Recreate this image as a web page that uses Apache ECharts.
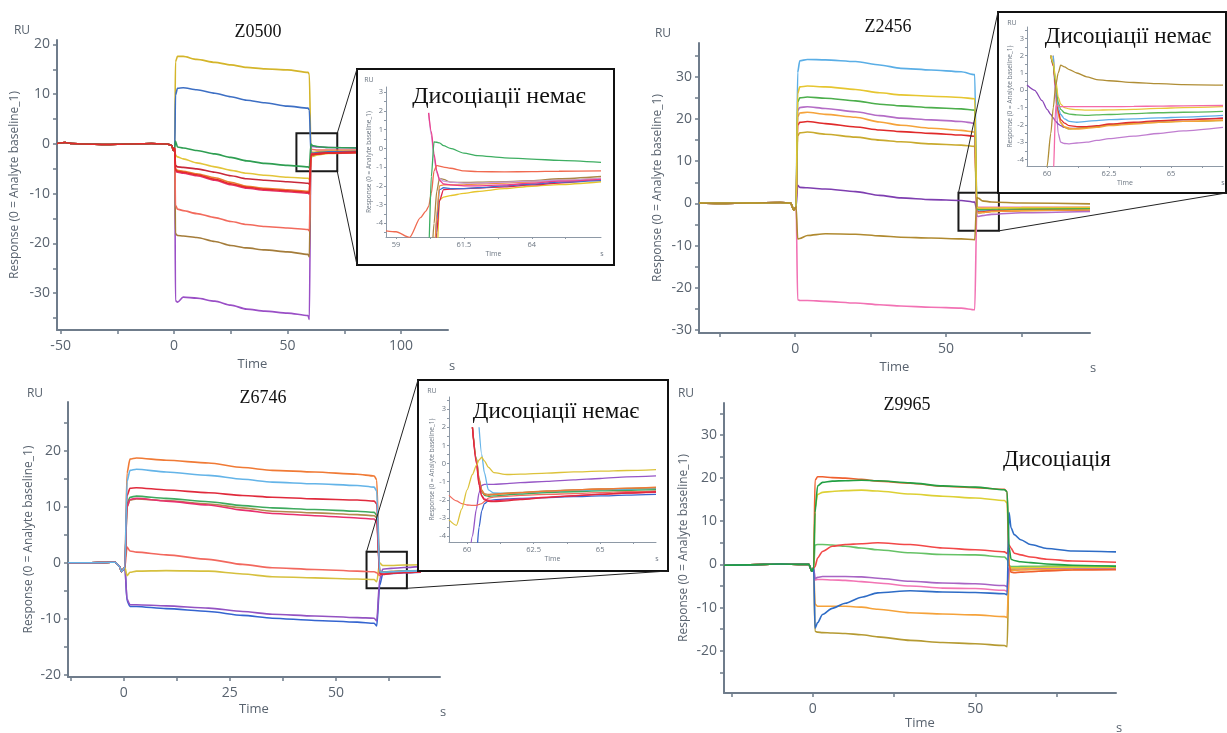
<!DOCTYPE html>
<html><head><meta charset="utf-8">
<script src="https://cdn.jsdelivr.net/npm/echarts@6/dist/echarts.min.js"></script>
<style>html,body{margin:0;padding:0;background:#fff}#c{width:1227px;height:733px}</style>
</head><body><div id="c"></div>
<script>
// ================= DATA =================
// ---- Panel Z0500 ----
const P1_PRE_T = [-51.6, -48, -45, -40, -30, -20, -10, -3, -1, -0.3, 0.3];
const P1_PRE_V = [0.1, 0.3, 0.1, 0.0, -0.1, 0.0, 0.1, 0.0, -0.3, -1.3, -0.8];
const P1_T = [0.6, 1.5, 4, 10, 18, 25, 32, 40, 50, 59, 59.6, 60.3, 61, 63, 68, 85];
const P1_YELLOW = [16.5, 17.6, 17.6, 17.0, 16.4, 15.9, 15.4, 15.1, 14.9, 14.4, 14.0, -1.5, -1.7, -1.6, -1.5, -1.4];
const P1_BLUE = [9.8, 11.2, 11.3, 10.9, 10.2, 9.5, 8.8, 8.3, 7.6, 7.2, 6.8, -1.8, -1.9, -1.8, -1.6, -1.5];
const P1_GREEN = [0.6, -0.6, -0.8, -1.3, -2.0, -2.7, -3.4, -3.9, -4.3, -4.6, -4.8, 0.0, -0.3, -0.5, -0.7, -0.8];
const P1_YELLOW2 = [-2.2, -2.6, -3.0, -3.8, -4.6, -5.3, -5.9, -6.3, -6.7, -6.9, -7.1, -2.6, -2.5, -2.2, -1.9, -1.7];
const P1_DARKRED = [-4.3, -4.6, -4.7, -5.0, -5.7, -6.4, -7.0, -7.3, -7.6, -7.9, -8.1, -2.2, -2.2, -2.0, -1.8, -1.6];
const P1_ORANGE = [-5.0, -5.3, -5.5, -6.0, -6.8, -7.7, -8.5, -8.9, -9.2, -9.5, -9.6, -1.9, -1.9, -1.85, -1.7, -1.6];
const P1_RED = [-5.2, -5.5, -5.7, -6.2, -7.1, -8.0, -8.7, -9.1, -9.4, -9.7, -9.9, -2.1, -2.1, -2.0, -1.8, -1.6];
const P1_PINK = [-5.4, -5.7, -5.9, -6.4, -7.3, -8.2, -8.9, -9.3, -9.6, -9.9, -10.1, -1.9, -2.0, -1.95, -1.8, -1.7];
const P1_SALMON = [-12.3, -13.1, -13.4, -14.0, -14.8, -15.6, -16.2, -16.6, -16.9, -17.2, -17.5, -1.0, -1.1, -1.2, -1.2, -1.2];
const P1_BROWN = [-18.0, -18.4, -18.5, -18.8, -19.6, -20.4, -20.9, -21.3, -21.7, -22.2, -22.7, -1.7, -1.8, -1.8, -1.7, -1.6];
const P1_PURPLE = [-31.5, -31.8, -30.8, -31.0, -31.6, -32.4, -33.2, -33.6, -34.0, -34.5, -35.3, -0.6, -0.5, -0.6, -0.7, -0.8];

// ---- Inset of Z0500 ----
const I1_T = [58.63, 59, 59.5, 59.9, 60.1, 60.2, 60.3, 60.4, 60.5, 60.6, 60.75, 61, 61.5, 62, 63, 64, 65, 66.55];
const I1_GREEN = [-6, -6, -6, -6, -6, -5.5, -1.5, 0.35, 0.33, 0.3, 0.15, 0.0, -0.25, -0.38, -0.5, -0.57, -0.64, -0.75];
const I1_SALMON = [-4.4, -4.45, -4.75, -3.7, -3.35, -3.1, -2.4, -1.2, -0.9, -0.95, -1.0, -1.06, -1.2, -1.24, -1.25, -1.24, -1.22, -1.2];
const I1_PINK = [null, null, null, null, null, 1.9, 0.9, -0.3, -1.2, -1.7, -1.9, -1.95, -2.0, -2.0, -1.95, -1.85, -1.75, -1.65];
const I1_LAVENDER = [null, null, null, null, null, 1.9, 0.7, -0.5, -1.3, -1.6, -1.75, -1.8, -1.85, -1.85, -1.8, -1.75, -1.7, -1.6];
const I1_BROWN = [-6, -6, -6, -6, -6, -6, -6, -4.0, -2.3, -1.6, -1.65, -1.8, -1.82, -1.8, -1.77, -1.72, -1.62, -1.5];
const I1_ORANGE = [-6, -6, -6, -6, -6, -6, -6, -6, -3.5, -2.0, -1.95, -1.95, -1.95, -1.9, -1.85, -1.78, -1.7, -1.6];
const I1_BLUE = [-6, -6, -6, -6, -6, -6, -6, -6, -3.8, -2.2, -2.1, -2.15, -2.15, -2.1, -2.0, -1.9, -1.8, -1.7];
const I1_RED = [-6, -6, -6, -6, -6, -6, -6, -6, -4.5, -2.8, -2.2, -2.17, -2.15, -2.12, -2.05, -1.95, -1.85, -1.63];
const I1_YELLOW = [-6, -6, -6, -6, -6, -6, -6, -6, -6, -2.75, -2.6, -2.52, -2.4, -2.3, -2.15, -2.02, -1.93, -1.78];

// ---- Panel Z2456 ----
const P2_PRE_T = [-31.9, -25, -15, -5, -1.5, -0.5, 0.3];
const P2_PRE_V = [0.1, 0.0, 0.1, 0.2, 0.1, -1.6, -0.8];
const P2_T = [0.8, 1.5, 4, 10, 20, 28, 35, 45, 55, 59.5, 60.2, 60.8, 62, 65, 75, 97.7];
const P2_LIGHTBLUE = [31.0, 33.8, 34.1, 34.0, 33.6, 32.8, 32.0, 31.6, 31.2, 30.5, -1.5, -1.8, -1.75, -1.65, -1.45, -1.3];
const P2_YELLOW = [26.0, 27.6, 27.8, 27.6, 27.0, 26.2, 25.7, 25.4, 25.1, 24.8, -1.0, -1.1, -1.15, -1.1, -1.0, -0.9];
const P2_GREEN = [24.0, 25.0, 25.2, 24.9, 24.3, 23.5, 23.1, 22.7, 22.4, 22.1, -1.3, -1.4, -1.45, -1.35, -1.3, -1.2];
const P2_VIOLET = [22.0, 22.7, 22.9, 22.5, 21.7, 20.8, 20.2, 19.8, 19.4, 19.0, -3.0, -3.1, -2.9, -2.6, -2.2, -1.9];
const P2_ORANGE = [20.5, 21.4, 21.6, 21.1, 20.4, 19.3, 18.5, 17.8, 17.3, 16.9, -2.1, -2.2, -2.15, -1.9, -1.7, -1.5];
const P2_RED = [18.5, 19.2, 19.4, 18.9, 18.1, 17.4, 17.0, 16.6, 16.2, 15.9, -1.9, -2.1, -2.05, -1.85, -1.6, -1.5];
const P2_OLIVE = [16.0, 16.7, 16.9, 16.4, 15.7, 15.0, 14.6, 14.1, 13.8, 13.5, -2.0, -2.2, -2.15, -1.9, -1.7, -1.5];
const P2_PURPLE = [4.3, 3.8, 3.7, 3.4, 2.8, 1.9, 1.3, 0.9, 0.7, 0.3, -1.6, -2.2, -2.1, -1.8, -1.6, -1.4];
const P2_BROWN = [-8.4, -8.3, -7.6, -7.2, -7.3, -7.7, -8.0, -8.2, -8.4, -8.6, 1.4, 1.2, 0.6, 0.35, 0.1, -0.1];
const P2_PINK = [-22.8, -23.0, -23.0, -23.2, -23.6, -24.0, -24.3, -24.6, -24.8, -25.2, -0.9, -0.95, -0.95, -0.9, -0.9, -0.9];

// ---- Inset of Z2456 ----
const I2_T = [59.19, 59.5, 59.8, 60.0, 60.15, 60.25, 60.35, 60.45, 60.55, 60.7, 60.9, 61.2, 61.6, 62, 62.5, 63.5, 64.5, 65.5, 67.1];
const I2_PURPLE = [0.3, 0.0, -0.6, -1.1, -1.4, -1.6, -1.8, -1.95, -2.05, -2.15, -2.2, -2.2, -2.15, -2.1, -2.0, -1.9, -1.8, -1.7, -1.6];
const I2_LAVENDER = [null, null, null, null, null, 2.0, -0.5, -2.5, -3.0, -3.08, -3.1, -3.05, -3.0, -2.9, -2.8, -2.65, -2.5, -2.35, -2.15];
const I2_BROWN = [-6, -6, -6, -4.4, -2.5, -1.0, 0.3, 1.0, 1.45, 1.35, 1.2, 1.0, 0.78, 0.62, 0.55, 0.45, 0.38, 0.33, 0.3];
const I2_PINK = [-6, -6, -6, -6, -6, -5, -0.9, -0.9, -0.95, -0.95, -0.95, -0.95, -0.95, -0.95, -0.95, -0.93, -0.92, -0.9, -0.88];
const I2_YELLOW = [null, null, null, null, 2.0, 1.6, 0.6, -0.4, -0.8, -1.0, -1.08, -1.12, -1.15, -1.15, -1.13, -1.1, -1.05, -1.0, -0.95];
const I2_GREEN = [null, null, null, null, 2.0, 1.5, 0.4, -0.7, -1.1, -1.3, -1.38, -1.42, -1.45, -1.42, -1.4, -1.35, -1.3, -1.27, -1.22];
const I2_LIGHTBLUE = [null, null, null, null, null, 2.0, 0.5, -1.0, -1.4, -1.65, -1.8, -1.85, -1.8, -1.75, -1.7, -1.65, -1.6, -1.55, -1.45];
const I2_RED = [null, null, null, null, 2.0, 1.4, 0.2, -1.2, -1.7, -1.9, -2.05, -2.1, -2.1, -2.05, -1.95, -1.85, -1.75, -1.7, -1.62];
const I2_ORANGE = [null, null, null, null, null, 2.0, 0.2, -1.4, -1.9, -2.1, -2.2, -2.25, -2.2, -2.15, -2.05, -1.95, -1.85, -1.8, -1.72];
const I2_OLIVE = [null, null, null, null, 2.0, 1.5, 0.3, -1.3, -1.85, -2.15, -2.25, -2.2, -2.15, -2.1, -2.0, -1.92, -1.85, -1.8, -1.75];

// ---- Panel Z6746 ----
const P3_PRE_T = [-13.1, -8, -4, -2, -1, -0.5, 0.3];
const P3_PRE_V = [0.0, 0.0, 0.05, 0.1, -0.6, -1.6, -0.8];
const P3_T = [0.8, 1.5, 3, 10, 20, 28, 35, 45, 55, 59, 59.6, 60.3, 61, 63, 66, 70];
const P3_ORANGE = [16.0, 18.5, 18.7, 18.3, 17.8, 17.0, 16.5, 16.2, 15.8, 15.5, 14.8, -1.5, -1.65, -1.6, -1.5, -1.4];
const P3_LIGHTBLUE = [14.5, 16.5, 16.7, 16.2, 15.6, 14.9, 14.4, 14.1, 13.8, 13.5, 12.8, -1.6, -1.7, -1.6, -1.5, -1.45];
const P3_RED = [12.0, 13.3, 13.4, 13.0, 12.5, 12.0, 11.7, 11.4, 11.2, 11.0, 10.5, -1.9, -2.1, -1.9, -1.75, -1.65];
const P3_GREEN = [10.5, 11.7, 11.9, 11.5, 10.9, 10.2, 9.8, 9.5, 9.2, 9.0, 8.5, -1.7, -1.75, -1.65, -1.55, -1.5];
const P3_BROWN = [10.0, 11.2, 11.4, 11.1, 10.5, 9.8, 9.2, 8.9, 8.6, 8.4, 8.0, -1.6, -1.7, -1.55, -1.45, -1.4];
const P3_PINK = [10.0, 11.3, 11.5, 11.0, 10.3, 9.4, 8.8, 8.4, 8.0, 7.8, 7.3, -2.0, -2.05, -1.9, -1.75, -1.65];
const P3_SALMON = [2.8, 2.1, 1.9, 1.4, 0.6, -0.3, -0.9, -1.2, -1.5, -1.6, -1.8, -2.3, -1.9, -1.75, -1.6, -1.5];
const P3_YELLOW = [-2.3, -1.7, -1.5, -1.4, -1.5, -2.0, -2.5, -2.7, -2.9, -3.0, -3.4, 0.0, -0.5, -0.5, -0.4, -0.35];
const P3_PURPLE = [-6.5, -7.5, -7.5, -7.7, -8.1, -8.7, -9.2, -9.5, -9.8, -9.9, -10.4, -3.0, -1.15, -1.0, -0.85, -0.7];
const P3_BLUE = [-6.8, -7.8, -7.8, -8.2, -8.7, -9.4, -9.9, -10.3, -10.6, -10.8, -11.3, -4.0, -2.0, -1.9, -1.8, -1.7];

// ---- Inset of Z6746 ----
const I3_T = [59.32, 59.6, 59.8, 60.0, 60.2, 60.35, 60.45, 60.55, 60.65, 60.8, 61.0, 61.5, 62, 63, 64, 65, 66, 67.1];
const I3_YELLOW = [-3.1, -3.4, -2.5, -1.45, -0.6, -0.1, 0.2, 0.35, 0.15, -0.2, -0.5, -0.6, -0.58, -0.52, -0.46, -0.42, -0.38, -0.33];
const I3_SALMON = [-1.75, -2.05, -2.2, -2.28, -2.3, -2.3, -2.25, -2.2, -2.1, -1.9, -1.85, -1.8, -1.75, -1.7, -1.65, -1.6, -1.55, -1.5];
const I3_PURPLE = [-6, -6, -6, -6, -4.0, -2.5, -1.6, -1.2, -1.15, -1.15, -1.15, -1.1, -1.05, -0.98, -0.9, -0.82, -0.73, -0.68];
const I3_BLUE = [-6, -6, -6, -6, -6, -5, -3.5, -2.6, -2.2, -2.05, -2.0, -1.95, -1.92, -1.87, -1.82, -1.78, -1.74, -1.7];
const I3_LIGHTBLUE = [null, null, null, null, null, null, 2.0, 0.5, -0.5, -1.45, -1.62, -1.65, -1.62, -1.55, -1.5, -1.45, -1.42, -1.38];
const I3_ORANGE = [null, null, null, null, 2.0, 0.2, -0.9, -1.5, -1.7, -1.75, -1.7, -1.65, -1.6, -1.52, -1.45, -1.4, -1.35, -1.3];
const I3_BROWN = [null, null, null, null, 2.0, 0.3, -0.8, -1.45, -1.65, -1.7, -1.68, -1.62, -1.58, -1.5, -1.45, -1.4, -1.37, -1.33];
const I3_GREEN = [null, null, null, null, 2.0, 0.3, -0.9, -1.55, -1.75, -1.8, -1.78, -1.72, -1.68, -1.6, -1.55, -1.5, -1.47, -1.43];
const I3_RED = [null, null, null, null, 2.0, 0.0, -1.2, -1.8, -2.0, -2.08, -2.1, -2.05, -1.98, -1.87, -1.78, -1.7, -1.62, -1.55];
const I3_PINK = [null, null, null, null, 2.0, 0.1, -1.1, -1.75, -1.95, -2.02, -2.05, -2.0, -1.95, -1.85, -1.76, -1.68, -1.62, -1.58];

// ---- Panel Z9965 ----
const P4_PRE_T = [-27.3, -20, -10, -3, -1.2, -0.3, 0.3];
const P4_PRE_V = [-0.2, -0.1, 0.1, 0.0, 0.0, -1.6, -0.8];
const P4_T = [0.7, 1.5, 3, 6, 10, 15, 20, 30, 40, 50, 59, 59.8, 60.4, 61, 62, 64, 67, 72, 80, 93.3];
const P4_ORANGERED = [19.5, 20.3, 20.3, 20.1, 20.0, 19.7, 19.3, 18.8, 18.1, 17.8, 17.4, 16.8, 0.0, -1.8, -1.9, -1.8, -1.7, -1.5, -1.3, -1.2];
const P4_GREEN = [12.0, 18.2, 19.0, 19.3, 19.4, 19.5, 19.4, 18.9, 18.2, 17.9, 17.3, 16.8, 4.0, 1.2, 0.9, 0.6, 0.4, 0.1, -0.2, -0.45];
const P4_YELLOW = [13.0, 16.2, 16.7, 16.9, 17.1, 17.2, 17.0, 16.3, 15.8, 15.4, 14.8, 14.2, -0.5, -0.8, -0.8, -0.8, -0.75, -0.7, -0.7, -0.7];
const P4_RED = [-0.5, 1.5, 3.0, 4.2, 4.6, 4.8, 5.0, 4.6, 3.8, 3.4, 2.9, 2.5, 4.5, 3.8, 2.6, 2.2, 1.7, 1.2, 0.8, 0.5];
const P4_LIGHTGREEN = [4.5, 4.6, 4.6, 4.5, 4.2, 3.8, 3.4, 2.7, 2.3, 2.2, 1.7, 1.2, -0.3, -0.5, -0.5, -0.45, -0.45, -0.4, -0.4, -0.4];
const P4_PURPLE = [-3.3, -3.0, -2.8, -2.8, -2.8, -2.9, -3.2, -3.9, -4.3, -4.5, -4.9, -5.2, -0.6, -0.7, -0.75, -0.8, -0.8, -0.8, -0.8, -0.8];
const P4_PINK = [-3.6, -3.5, -3.5, -3.6, -3.7, -4.0, -4.3, -5.0, -5.5, -5.6, -6.0, -6.3, -0.9, -0.95, -0.95, -0.95, -0.9, -0.9, -0.9, -0.9];
const P4_BLUE = [-14.8, -13.5, -11.6, -10.2, -9.0, -7.6, -6.6, -6.1, -6.4, -6.5, -6.8, -7.0, 12.0, 8.5, 6.9, 5.7, 4.6, 3.7, 3.1, 2.9];
const P4_ORANGE = [-9.2, -9.7, -9.7, -9.7, -9.7, -9.9, -10.4, -11.2, -11.5, -11.7, -12.1, -12.3, -1.5, -1.4, -1.35, -1.3, -1.25, -1.2, -1.15, -1.1];
const P4_OLIVE = [-15.5, -15.7, -15.8, -15.9, -16.0, -16.3, -16.8, -17.6, -18.1, -18.4, -18.8, -19.1, -1.2, -1.1, -1.1, -1.05, -1.0, -1.0, -1.0, -1.0];

// ---- Tick labels ----
const P1_XLABELS = [-50, 0, 50, 100], P1_XTICKS = [-50, -25, 0, 25, 50, 75, 100];
const P1_YLABELS = [-30, -20, -10, 0, 10, 20], P1_YTICKS = [-35, -30, -25, -20, -15, -10, -5, 0, 5, 10, 15, 20];
const P2_XLABELS = [0, 50], P2_XTICKS = [-25, 0, 25, 50, 75];
const P2_YLABELS = [-30, -20, -10, 0, 10, 20, 30], P2_YTICKS = [-30, -25, -20, -15, -10, -5, 0, 5, 10, 15, 20, 25, 30, 35];
const P3_XLABELS = [0, 25, 50], P3_XTICKS = [-12.5, 0, 12.5, 25, 37.5, 50, 62.5];
const P3_YLABELS = [-20, -10, 0, 10, 20], P3_YTICKS = [-20, -15, -10, -5, 0, 5, 10, 15, 20, 25];
const P4_XLABELS = [0, 50], P4_XTICKS = [-25, 0, 25, 50, 75];
const P4_YLABELS = [-20, -10, 0, 10, 20, 30], P4_YTICKS = [-25, -20, -15, -10, -5, 0, 5, 10, 15, 20, 25, 30, 35];
const I1_XLABELS = [59, 61.5, 64], I1_XTICKS = [59, 60.25, 61.5, 62.75, 64, 65.25];
const I2_XLABELS = [60, 62.5, 65], I2_XTICKS = [60, 61.25, 62.5, 63.75, 65, 66.25];
const I3_XLABELS = [60, 62.5, 65], I3_XTICKS = [60, 61.25, 62.5, 63.75, 65, 66.25];
const I_YLABELS = [-4, -3, -2, -1, 0, 1, 2, 3];
const I_YTICKS = [-4.5, -4, -3.5, -3, -2.5, -2, -1.5, -1, -0.5, 0, 0.5, 1, 1.5, 2, 2.5, 3, 3.5];

const TITLES = ['Z0500', 'Z2456', 'Z6746', 'Z9965'];
const NOTE_NO = 'Дисоціації немає';
const NOTE_YES = 'Дисоціація';
const Y_NAME = 'Response (0 = Analyte baseline_1)';

// ================= LAYOUT / STYLE =================
const AX = '#6f7c8b', LB = '#59636f', IAX = '#8e99a6', ILB = '#6d7783';
const SANS = '"Open Sans", "Noto Sans", sans-serif';
const SERIF = '"Liberation Serif", "DejaVu Serif", serif';

const GRIDS = [
  {left: 57, top: 40, width: 391, height: 290},     // Z0500
  {left: 699, top: 43, width: 391, height: 290},    // Z2456
  {left: 68, top: 402, width: 372, height: 275},    // Z6746
  {left: 724, top: 403, width: 392, height: 290},   // Z9965
  {left: 386, top: 87, width: 215, height: 150},    // inset 1
  {left: 1027, top: 27, width: 196, height: 139},   // inset 2
  {left: 449, top: 397, width: 207, height: 145}    // inset 3
];
const XR = [[-51.6, 120.7], [-31.9, 97.7], [-13.1, 74.5], [-27.3, 93.3], [58.63, 66.55], [59.19, 67.1], [59.32, 67.1]];
const YR = [[-37.4, 20.9], [-30.7, 38], [-20.4, 28.7], [-29.8, 37.4], [-4.73, 3.28], [-4.38, 3.66], [-4.32, 3.67]];
const BOXES = [
  {x: 357, y: 69, w: 257, h: 196},
  {x: 998, y: 12, w: 228, h: 181},
  {x: 418, y: 380, w: 250, h: 191}
];
// zoom-rectangles on main panels, in data coordinates [x0, x1, yTop, yBottom]
const ZRECT = [[53.9, 71.9, 2.15, -5.5], [54.1, 67.5, 2.5, -6.5], [57.2, 66.7, 1.96, -4.56]];

// ================= BUILD =================
function mainX(gi, labels, ticks, gap) {
  return {gridIndex: gi, type: 'value', min: XR[gi][0], max: XR[gi][1],
    axisLine: {onZero: false, lineStyle: {color: AX, width: 2}},
    axisTick: {show: true, length: 4, customValues: ticks, lineStyle: {color: AX, width: 1.5}},
    axisLabel: {customValues: labels, color: LB, fontSize: 14, margin: 9, fontFamily: SANS},
    splitLine: {show: false},
    name: 'Time', nameLocation: 'middle', nameGap: gap,
    nameTextStyle: {color: LB, fontSize: 13, fontFamily: SANS}};
}
function mainY(gi, labels, ticks, gap) {
  return {gridIndex: gi, type: 'value', min: YR[gi][0], max: YR[gi][1],
    axisLine: {onZero: false, lineStyle: {color: AX, width: 2}},
    axisTick: {show: true, length: 4, customValues: ticks, lineStyle: {color: AX, width: 1.5}},
    axisLabel: {customValues: labels, color: LB, fontSize: 14, margin: 7, fontFamily: SANS},
    splitLine: {show: false},
    name: Y_NAME, nameLocation: 'middle', nameGap: gap,
    nameTextStyle: {color: LB, fontSize: 12, fontFamily: SANS}};
}
function insetX(gi, labels, ticks) {
  return {gridIndex: gi, type: 'value', min: XR[gi][0], max: XR[gi][1], z: 10,
    axisLine: {onZero: false, lineStyle: {color: IAX, width: 1}},
    axisTick: {show: true, length: 2, customValues: ticks, lineStyle: {color: IAX}},
    axisLabel: {customValues: labels, color: ILB, fontSize: 7.5, margin: 4, fontFamily: SANS},
    splitLine: {show: false},
    name: 'Time', nameLocation: 'middle', nameGap: 13,
    nameTextStyle: {color: ILB, fontSize: 7, fontFamily: SANS}};
}
function insetY(gi) {
  return {gridIndex: gi, type: 'value', min: YR[gi][0], max: YR[gi][1], z: 10,
    axisLine: {onZero: false, lineStyle: {color: IAX, width: 1}},
    axisTick: {show: true, length: 2, customValues: I_YTICKS, lineStyle: {color: IAX}},
    axisLabel: {customValues: I_YLABELS, color: ILB, fontSize: 7.5, margin: 3, fontFamily: SANS},
    splitLine: {show: false},
    name: Y_NAME, nameLocation: 'middle', nameGap: 13,
    nameTextStyle: {color: ILB, fontSize: 6.5, fontFamily: SANS}};
}

const series = [];
function addLine(gi, preT, preV, T, V, color, width, z) {
  const data = [];
  if (preT) preT.forEach((t, i) => data.push([t, preV[i]]));
  T.forEach((t, i) => data.push([t, V[i]]));
  const s = {type: 'line', xAxisIndex: gi, yAxisIndex: gi, data: data, showSymbol: false, symbol: 'none',
    smooth: 0.25, smoothMonotone: 'x', clip: true, silent: true, connectNulls: false, z: z || 2,
    lineStyle: {color: color, width: width || 1.6}, itemStyle: {color: color}};
  series.push(s);
  return s;
}

// Panel 1
[[P1_PURPLE, '#9a4fc6'], [P1_BROWN, '#a47c3a'], [P1_SALMON, '#f26a5c'], [P1_ORANGE, '#e8832e'],
 [P1_YELLOW2, '#e3c53a'], [P1_YELLOW, '#d4b52a'], [P1_BLUE, '#3d6fc4'], [P1_PINK, '#e5306e'],
 [P1_DARKRED, '#c8283a'], [P1_GREEN, '#2e9e52'], [P1_RED, '#e42a2a']]
  .forEach(([v, c]) => addLine(0, P1_PRE_T, P1_PRE_V, P1_T, v, c));
// Panel 2
[[P2_LIGHTBLUE, '#5aaee6'], [P2_PINK, '#f272b4'], [P2_PURPLE, '#7e3eb0'], [P2_OLIVE, '#c9aa2e'],
 [P2_RED, '#e02a2a'], [P2_ORANGE, '#f5a33a'], [P2_VIOLET, '#b46cc6'], [P2_GREEN, '#4cae4c'],
 [P2_YELLOW, '#e6c630'], [P2_BROWN, '#b08a30']]
  .forEach(([v, c]) => addLine(1, P2_PRE_T, P2_PRE_V, P2_T, v, c));
// Panel 3
[[P3_ORANGE, '#f07a35'], [P3_BLUE, '#3464d0'], [P3_PURPLE, '#9352c2'], [P3_YELLOW, '#d6c03e'], [P3_SALMON, '#f2685e'],
 [P3_BROWN, '#b08c4e'], [P3_GREEN, '#3eaa5e'], [P3_PINK, '#e8306e'], [P3_RED, '#e02a3c'],
 [P3_LIGHTBLUE, '#64b4e8']]
  .forEach(([v, c]) => addLine(2, P3_PRE_T, P3_PRE_V, P3_T, v, c));
// Panel 4
[[P4_OLIVE, '#b59a32'], [P4_ORANGE, '#f5a23a'], [P4_PINK, '#f274b4'], [P4_PURPLE, '#a864c4'],
 [P4_LIGHTGREEN, '#66c266'], [P4_RED, '#f24848'], [P4_YELLOW, '#ddd035'], [P4_ORANGERED, '#f0602e'],
 [P4_BLUE, '#2e6cc6'], [P4_GREEN, '#22a044']]
  .forEach(([v, c]) => addLine(3, P4_PRE_T, P4_PRE_V, P4_T, v, c));
// Insets
[[I1_YELLOW, '#e6c52c'], [I1_RED, '#e0204a'], [I1_BLUE, '#3a6fd0'], [I1_ORANGE, '#f09040'], [I1_BROWN, '#a88848'],
 [I1_LAVENDER, '#c89ad8'], [I1_PINK, '#ec3d8a'], [I1_SALMON, '#f06a50'], [I1_GREEN, '#3eae62']]
  .forEach(([v, c]) => addLine(4, null, null, I1_T, v, c, 1.3, 11));
[[I2_LAVENDER, '#c07ed0'], [I2_PURPLE, '#8a46b8'], [I2_OLIVE, '#c9aa2e'], [I2_ORANGE, '#f5a33a'], [I2_RED, '#e22e2e'],
 [I2_LIGHTBLUE, '#5caee6'], [I2_GREEN, '#5ab85a'], [I2_YELLOW, '#e8c83a'], [I2_PINK, '#f46aa8'], [I2_BROWN, '#b08e36']]
  .forEach(([v, c]) => addLine(5, null, null, I2_T, v, c, 1.3, 11));
[[I3_BLUE, '#3a64cc'], [I3_PURPLE, '#9656c6'], [I3_SALMON, '#f26c5e'], [I3_LIGHTBLUE, '#66b4e8'], [I3_GREEN, '#3eaa5e'],
 [I3_BROWN, '#b08c4e'], [I3_ORANGE, '#f07a35'], [I3_PINK, '#e8306e'], [I3_RED, '#e02a3c'], [I3_YELLOW, '#dcc23a']]
  .forEach(([v, c]) => addLine(6, null, null, I3_T, v, c, 1.3, 11));

// zoom rectangles as markAreas on first series of each main panel
[0, 11, 21].forEach((si, k) => {
  const r = ZRECT[k];
  series[si].markArea = {silent: true, label: {show: false},
    itemStyle: {color: 'rgba(0,0,0,0)', borderColor: '#1a1a1a', borderWidth: 2},
    data: [[{coord: [r[0], r[2]]}, {coord: [r[1], r[3]]}]]};
});

const option = {
  animation: false,
  backgroundColor: '#ffffff',
  grid: GRIDS.map((g, i) => Object.assign({containLabel: false, z: i >= 4 ? 10 : 0}, g)),
  xAxis: [mainX(0, P1_XLABELS, P1_XTICKS, 28), mainX(1, P2_XLABELS, P2_XTICKS, 28),
          mainX(2, P3_XLABELS, P3_XTICKS, 26), mainX(3, P4_XLABELS, P4_XTICKS, 24),
          insetX(4, I1_XLABELS, I1_XTICKS), insetX(5, I2_XLABELS, I2_XTICKS), insetX(6, I3_XLABELS, I3_XTICKS)],
  yAxis: [mainY(0, P1_YLABELS, P1_YTICKS, 36), mainY(1, P2_YLABELS, P2_YTICKS, 35),
          mainY(2, P3_YLABELS, P3_YTICKS, 33), mainY(3, P4_YLABELS, P4_YTICKS, 34),
          insetY(4), insetY(5), insetY(6)],
  series: series
};

const chart = echarts.init(document.getElementById('c'));
chart.setOption(option);

function txt(x, y, text, size, font, color, z, extra) {
  return Object.assign({type: 'text', x: x, y: y, z: z || 12, silent: true,
    style: {text: text, fontSize: size, fontFamily: font, fill: color,
      align: 'center', verticalAlign: 'middle', textAlign: 'center', textVerticalAlign: 'middle'}}, extra || {});
}
const g = [];
// titles and unit labels
g.push(txt(258, 32, TITLES[0], 18, SERIF, '#111'));
g.push(txt(888, 27, TITLES[1], 18, SERIF, '#111'));
g.push(txt(263, 398, TITLES[2], 18, SERIF, '#111'));
g.push(txt(907, 405, TITLES[3], 18, SERIF, '#111'));
g.push(txt(22, 31, 'RU', 12, SANS, LB), txt(663, 34, 'RU', 12, SANS, LB), txt(35, 394, 'RU', 12, SANS, LB), txt(686, 394, 'RU', 12, SANS, LB));
g.push(txt(452, 366, 's', 13, SANS, LB), txt(1093, 368, 's', 13, SANS, LB), txt(443, 712, 's', 13, SANS, LB), txt(1119, 728, 's', 13, SANS, LB));
g.push(txt(1057, 460, NOTE_YES, 23, SERIF, '#111'));
// inset boxes
BOXES.forEach(b => g.push({type: 'rect', z: 5, silent: true, shape: {x: b.x, y: b.y, width: b.w, height: b.h},
  style: {fill: '#fff', stroke: '#111', lineWidth: 2}}));
g.push(txt(499, 97, NOTE_NO, 24, SERIF, '#111'), txt(1128, 37, NOTE_NO, 23, SERIF, '#111'), txt(556, 412, NOTE_NO, 23, SERIF, '#111'));
g.push(txt(369, 80, 'RU', 7, SANS, ILB), txt(1012, 23, 'RU', 7, SANS, ILB), txt(432, 391, 'RU', 7, SANS, ILB));
g.push(txt(602, 254, 's', 7, SANS, ILB), txt(1223, 183, 's', 7, SANS, ILB), txt(657, 559, 's', 7, SANS, ILB));
// connectors
function px(gi, x, y) { return chart.convertToPixel({gridIndex: gi}, [x, y]); }
function line(a, b) { return {type: 'line', z: 6, silent: true, shape: {x1: a[0], y1: a[1], x2: b[0], y2: b[1]}, style: {stroke: '#222', lineWidth: 1}}; }
{
  const r = ZRECT[0], b = BOXES[0];
  g.push(line(px(0, r[1], r[2]), [b.x, b.y]), line(px(0, r[1], r[3]), [b.x, b.y + b.h]));
}
{
  const r = ZRECT[1], b = BOXES[1];
  g.push(line(px(1, r[0], r[2]), [b.x, b.y]), line(px(1, r[1], r[3]), [b.x + b.w, b.y + b.h]));
}
{
  const r = ZRECT[2], b = BOXES[2];
  g.push(line(px(2, r[0], r[2]), [b.x, b.y]), line(px(2, r[1], r[3]), [b.x + b.w, b.y + b.h]));
}
chart.setOption({graphic: g});
</script>
</body></html>
